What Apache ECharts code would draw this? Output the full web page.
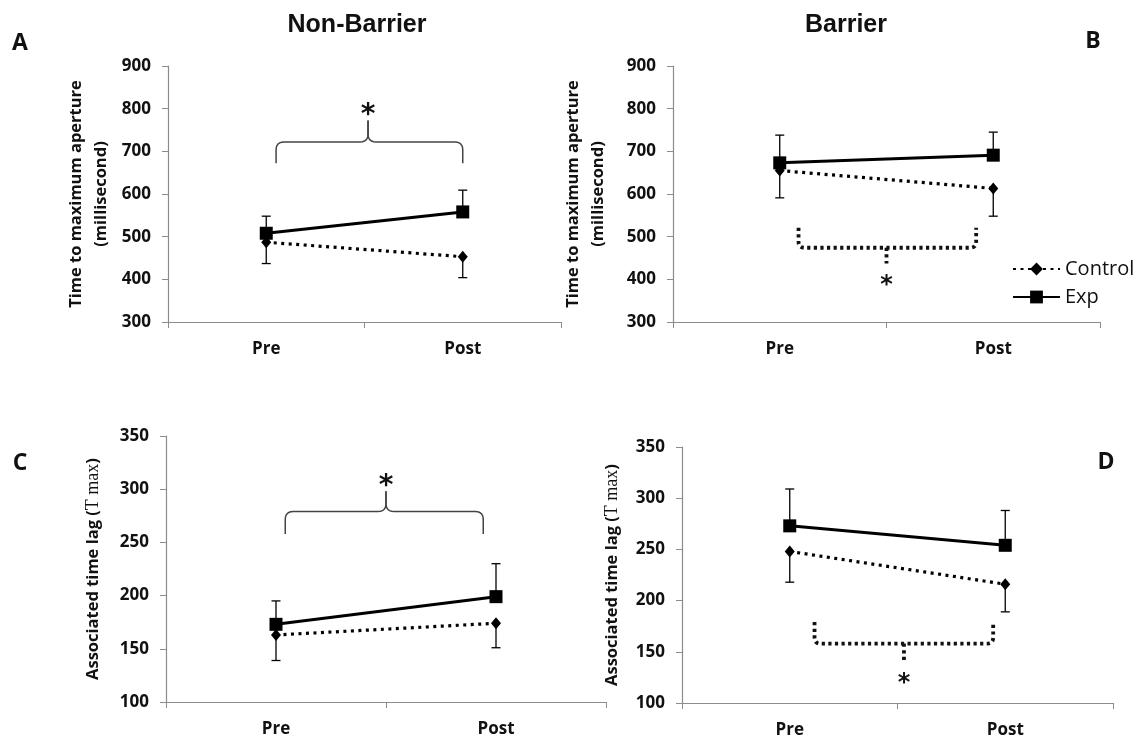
<!DOCTYPE html>
<html>
<head>
<meta charset="utf-8">
<title>Non-Barrier / Barrier</title>
<script src="https://cdn.jsdelivr.net/npm/echarts@6.0.0/dist/echarts.min.js"></script>
<style>
  html, body { margin: 0; padding: 0; background: #fff; }
  #chart { width: 1142px; height: 738px; }
</style>
</head>
<body>
<div id="chart"></div>
<script>
const phases = ['Pre', 'Post']

// A: non-barrier, time to maximum aperture (ms)
const controlA = [487, 453]
const expA = [508, 558]
const controlLowA = [437, 404]
const expHighA = [548, 609]

// B: barrier, time to maximum aperture (ms)
const controlB = [655, 613]
const expB = [673, 691]
const controlLowB = [591, 548]
const expHighB = [738, 745]

// C: non-barrier, associated time lag
const controlC = [163, 174]
const expC = [173, 199]
const controlLowC = [139, 151]
const expHighC = [195, 230]

// D: barrier, associated time lag
const controlD = [248, 216]
const expD = [273, 254]
const controlLowD = [218, 189]
const expHighD = [309, 288]

// significance marks: [end, bar, peak/stub, star]
const sigA = [672, 722, 772, 801]
const sigB = [521, 474, 437, 398]
const sigC = [258, 279, 298, 309]
const sigD = [179, 158, 142, 125]

const ink = '#111'
const axisGray = '#8c8c8c'
const uiFont = "'Open Sans', 'Noto Sans', sans-serif"
const apertureName = 'Time to maximum aperture\n(millisecond)'
const lagName = 'Associated time lag ({t|T max})'

const panels = [
  { ctrl: controlA, exp: expA, low: controlLowA, high: expHighA, sig: sigA,
    grid: { left: 168, top: 66, width: 393, height: 256 }, min: 300, max: 900, step: 100,
    name: apertureName, gap: 54, kind: 'curly', x0: 0.05, x1: 0, xm: 0.018 },
  { ctrl: controlB, exp: expB, low: controlLowB, high: expHighB, sig: sigB,
    grid: { left: 673, top: 66, width: 427, height: 256 }, min: 300, max: 900, step: 100,
    name: apertureName, gap: 62, kind: 'dotted', x0: 0.088, x1: -0.08, xm: 0 },
  { ctrl: controlC, exp: expC, low: controlLowC, high: expHighC, sig: sigC,
    grid: { left: 166, top: 436, width: 440, height: 266 }, min: 100, max: 350, step: 50,
    name: lagName, gap: 60, kind: 'curly', x0: 0.042, x1: -0.058, xm: 0 },
  { ctrl: controlD, exp: expD, low: controlLowD, high: expHighD, sig: sigD,
    grid: { left: 682, top: 447, width: 431, height: 256 }, min: 100, max: 350, step: 50,
    name: lagName, gap: 57, kind: 'dotted', x0: 0.115, x1: -0.056, xm: 0.03 }
]

// sample a quadratic corner into points
function corner(p0, p1, p2, n = 6) {
  const pts = []
  for (let i = 0; i <= n; i++) {
    const t = i / n
    const a = (1 - t) * (1 - t), b = 2 * t * (1 - t), c = t * t
    pts.push([a * p0[0] + b * p1[0] + c * p2[0], a * p0[1] + b * p1[1] + c * p2[1]])
  }
  return pts
}

function sigRender(p) {
  return (params, api) => {
    const band = api.size([1, 0])[0]
    const pre = api.coord([0, p.min])[0]
    const post = api.coord([1, p.min])[0]
    const y = v => api.coord([0, v])[1]
    const x0 = pre + p.x0 * band
    const x1 = post + p.x1 * band
    const xm = (pre + post) / 2 + p.xm * band
    const [yEnd, yBar, yTip, yStar] = p.sig.map(y)
    const children = []
    if (p.kind === 'curly') {
      const r = 8
      const st = { stroke: '#444', lineWidth: 1.5, fill: null }
      children.push({ type: 'polyline', shape: { points: [
        [x0, yEnd], ...corner([x0, yBar + r], [x0, yBar], [x0 + r, yBar]),
        ...corner([xm - r, yBar], [xm, yBar], [xm, yBar - r]), [xm, yTip]
      ] }, style: st })
      children.push({ type: 'polyline', shape: { points: [
        [xm, yTip], ...corner([xm, yBar - r], [xm, yBar], [xm + r, yBar]),
        ...corner([x1 - r, yBar], [x1, yBar], [x1, yBar + r]), [x1, yEnd]
      ] }, style: st })
      children.push({ type: 'text', x: xm, y: yStar + 7, style: {
        text: '*', font: "bold 28px 'DejaVu Sans'", fill: ink, textAlign: 'center', textVerticalAlign: 'middle' } })
    } else {
      const r = 6
      const st = { stroke: ink, lineWidth: 3.8, fill: null, lineDash: [3.2, 3.4] }
      children.push({ type: 'polyline', shape: { points: [
        [x0, yEnd], ...corner([x0, yBar - r], [x0, yBar], [x0 + r, yBar]),
        ...corner([x1 - r, yBar], [x1, yBar], [x1, yBar - r]), [x1, yEnd]
      ] }, style: st })
      children.push({ type: 'line', shape: { x1: xm, y1: yBar, x2: xm, y2: yTip }, style: st })
      children.push({ type: 'text', x: xm, y: yStar + 6, style: {
        text: '*', font: "bold 24px 'DejaVu Sans'", fill: ink, textAlign: 'center', textVerticalAlign: 'middle' } })
    }
    return { type: 'group', children }
  }
}

function errorRender(params, api) {
  const x = api.value(0)
  const lm = api.coord([x, api.value(1)])
  const lo = api.coord([x, api.value(2)])
  const hm = api.coord([x, api.value(3)])
  const hi = api.coord([x, api.value(4)])
  const cap = 4.5
  const st = { stroke: '#000', lineWidth: 1.3 }
  return {
    type: 'group',
    children: [
      { type: 'line', shape: { x1: lm[0], y1: lm[1], x2: lo[0], y2: lo[1] }, style: st },
      { type: 'line', shape: { x1: lo[0] - cap, y1: lo[1], x2: lo[0] + cap, y2: lo[1] }, style: st },
      { type: 'line', shape: { x1: hm[0], y1: hm[1], x2: hi[0], y2: hi[1] }, style: st },
      { type: 'line', shape: { x1: hi[0] - cap, y1: hi[1], x2: hi[0] + cap, y2: hi[1] }, style: st }
    ]
  }
}

const grid = panels.map(p => ({ ...p.grid, outerBoundsMode: 'none' }))

const xAxis = panels.map((p, i) => ({
  type: 'category',
  gridIndex: i,
  data: phases,
  axisLine: { lineStyle: { color: axisGray, width: 1.2 } },
  axisTick: { show: true, length: 6, lineStyle: { color: axisGray } },
  axisLabel: { color: ink, fontFamily: uiFont, fontWeight: 'bold', fontSize: 17, margin: 19 },
  splitLine: { show: false }
}))

const yAxis = panels.map((p, i) => ({
  type: 'value',
  gridIndex: i,
  min: p.min,
  max: p.max,
  interval: p.step,
  axisLine: { show: true, lineStyle: { color: axisGray, width: 1.2 } },
  axisTick: { show: true, length: 6, lineStyle: { color: axisGray } },
  axisLabel: { color: ink, fontFamily: uiFont, fontWeight: 'bold', fontSize: 17, margin: 17 },
  splitLine: { show: false },
  name: p.name,
  nameLocation: 'middle',
  nameRotate: 90,
  nameGap: p.gap,
  nameTextStyle: {
    color: ink, fontFamily: uiFont, fontWeight: 'bold', fontSize: 16.5, lineHeight: 25,
    rich: { t: { fontFamily: "'Liberation Serif', serif", fontWeight: 'normal', fontSize: 18, color: ink } }
  }
}))

const series = []
panels.forEach((p, i) => {
  series.push({
    type: 'custom', xAxisIndex: i, yAxisIndex: i, silent: true, z: 2,
    data: phases.map((_, k) => [k, p.ctrl[k], p.low[k], p.exp[k], p.high[k]]),
    encode: { x: 0, y: [1, 2, 3, 4] },
    renderItem: errorRender
  })
  series.push({
    name: 'Control', type: 'line', xAxisIndex: i, yAxisIndex: i, z: 3,
    data: p.ctrl, symbol: 'diamond', symbolSize: [10, 12],
    lineStyle: { color: '#000', width: 3.2, type: [3, 4.5] },
    itemStyle: { color: '#000' }
  })
  series.push({
    name: 'Exp', type: 'line', xAxisIndex: i, yAxisIndex: i, z: 4,
    data: p.exp, symbol: 'rect', symbolSize: 13,
    lineStyle: { color: '#000', width: 3 },
    itemStyle: { color: '#000' }
  })
  series.push({
    type: 'custom', xAxisIndex: i, yAxisIndex: i, silent: true, z: 5,
    data: [[0, p.min]],
    renderItem: sigRender(p)
  })
})

const headText = (text, x, y, size, family) => ({
  type: 'text', x, y,
  style: { text, fill: ink, font: `bold ${size}px ${family}`, textAlign: 'center', textVerticalAlign: 'middle' }
})

const option = {
  animation: false,
  backgroundColor: '#fff',
  grid,
  xAxis,
  yAxis,
  series,
  legend: {
    data: ['Control', 'Exp'],
    orient: 'vertical',
    left: 1012,
    top: 259,
    padding: 0,
    itemWidth: 47,
    itemHeight: 16,
    itemGap: 8,
    selectedMode: false,
    textStyle: { color: ink, fontFamily: uiFont, fontSize: 20, fontWeight: 500 }
  },
  graphic: [
    headText('Non-Barrier', 357, 25, 25, "'Liberation Sans', Arial"),
    headText('Barrier', 846, 25, 25, "'Liberation Sans', Arial"),
    headText('A', 20, 43, 23, uiFont),
    headText('B', 1093, 41, 23, uiFont),
    headText('C', 20, 463, 23, uiFont),
    headText('D', 1106, 462, 23, uiFont)
  ]
}

const chart = echarts.init(document.getElementById('chart'))
chart.setOption(option)
</script>
</body>
</html>
